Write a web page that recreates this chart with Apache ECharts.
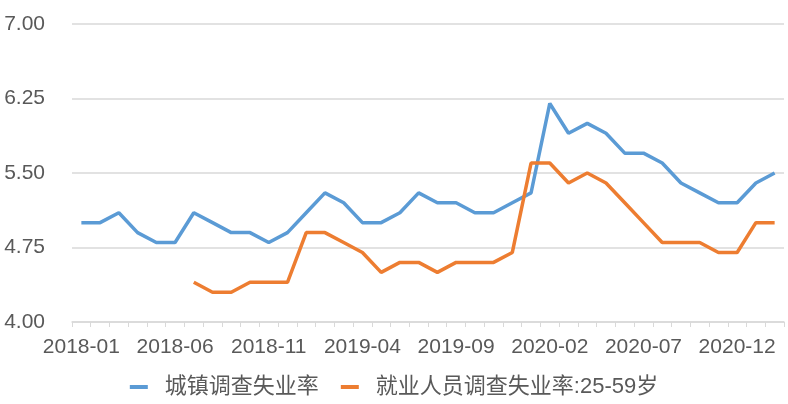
<!DOCTYPE html>
<html>
<head>
<meta charset="utf-8">
<script src="https://cdn.jsdelivr.net/npm/echarts@6/dist/echarts.min.js"></script>
<style>
  html, body { margin: 0; padding: 0; background: #fff; }
  #chart { width: 788px; height: 404px; }
</style>
</head>
<body>
<div id="chart"></div>
<script>
// months 2018-01 .. 2021-02
const months = [];
for (let y = 2018; y <= 2021; y++) {
  for (let m = 1; m <= 12; m++) {
    if (y === 2021 && m > 2) break;
    months.push(y + "-" + String(m).padStart(2, "0"));
  }
}

const urbanRate = [
  5.0, 5.0, 5.1, 4.9, 4.8, 4.8, 5.1, 5.0, 4.9, 4.9, 4.8, 4.9,
  5.1, 5.3, 5.2, 5.0, 5.0, 5.1, 5.3, 5.2, 5.2, 5.1, 5.1, 5.2,
  5.3, 6.2, 5.9, 6.0, 5.9, 5.7, 5.7, 5.6, 5.4, 5.3, 5.2, 5.2,
  5.4, 5.5,
];

const age2559Rate = [
  null, null, null, null, null, null, 4.4, 4.3, 4.3, 4.4, 4.4, 4.4,
  4.9, 4.9, 4.8, 4.7, 4.5, 4.6, 4.6, 4.5, 4.6, 4.6, 4.6, 4.7,
  5.6, 5.6, 5.4, 5.5, 5.4, 5.2, 5.0, 4.8, 4.8, 4.8, 4.7, 4.7,
  5.0, 5.0,
];

const seriesNames = ["城镇调查失业率", "就业人员调查失业率:25-59岁"];

const font = '"Liberation Sans", "Noto Sans CJK SC", sans-serif';
const chart = echarts.init(document.getElementById("chart"));

chart.setOption({
  animation: false,
  color: ["#5B9BD5", "#ED7D31"],
  grid: { left: 72, right: 4, top: 24, bottom: 82 },
  legend: {
    bottom: 1,
    left: "center",
    icon: "rect",
    itemWidth: 18,
    itemHeight: 4,
    itemGap: 22,
    textStyle: {
      fontSize: 22,
      color: "#595959",
      fontFamily: font,
      padding: [0, 0, 0, 12],
    },
    data: seriesNames,
  },
  xAxis: {
    type: "category",
    data: months,
    boundaryGap: true,
    axisLine: { lineStyle: { color: "#d9d9d9", width: 1.5 } },
    axisTick: { show: true, interval: 0, length: 5, lineStyle: { color: "#d9d9d9" } },
    axisLabel: {
      interval: 4,
      fontSize: 21,
      color: "#595959",
      fontFamily: font,
      margin: 15,
    },
  },
  yAxis: {
    type: "value",
    min: 4.0,
    max: 7.0,
    interval: 0.75,
    axisLine: { show: false },
    axisTick: { show: false },
    splitLine: { lineStyle: { color: "#d9d9d9", width: 1.5 } },
    axisLabel: {
      formatter: (v) => v.toFixed(2),
      fontSize: 21,
      color: "#595959",
      fontFamily: font,
      margin: 27,
    },
  },
  series: [
    {
      name: seriesNames[0],
      type: "line",
      data: urbanRate,
      symbol: "none",
      lineStyle: { width: 3.5 },
    },
    {
      name: seriesNames[1],
      type: "line",
      data: age2559Rate,
      symbol: "none",
      lineStyle: { width: 3.5 },
    },
  ],
});
</script>
</body>
</html>
